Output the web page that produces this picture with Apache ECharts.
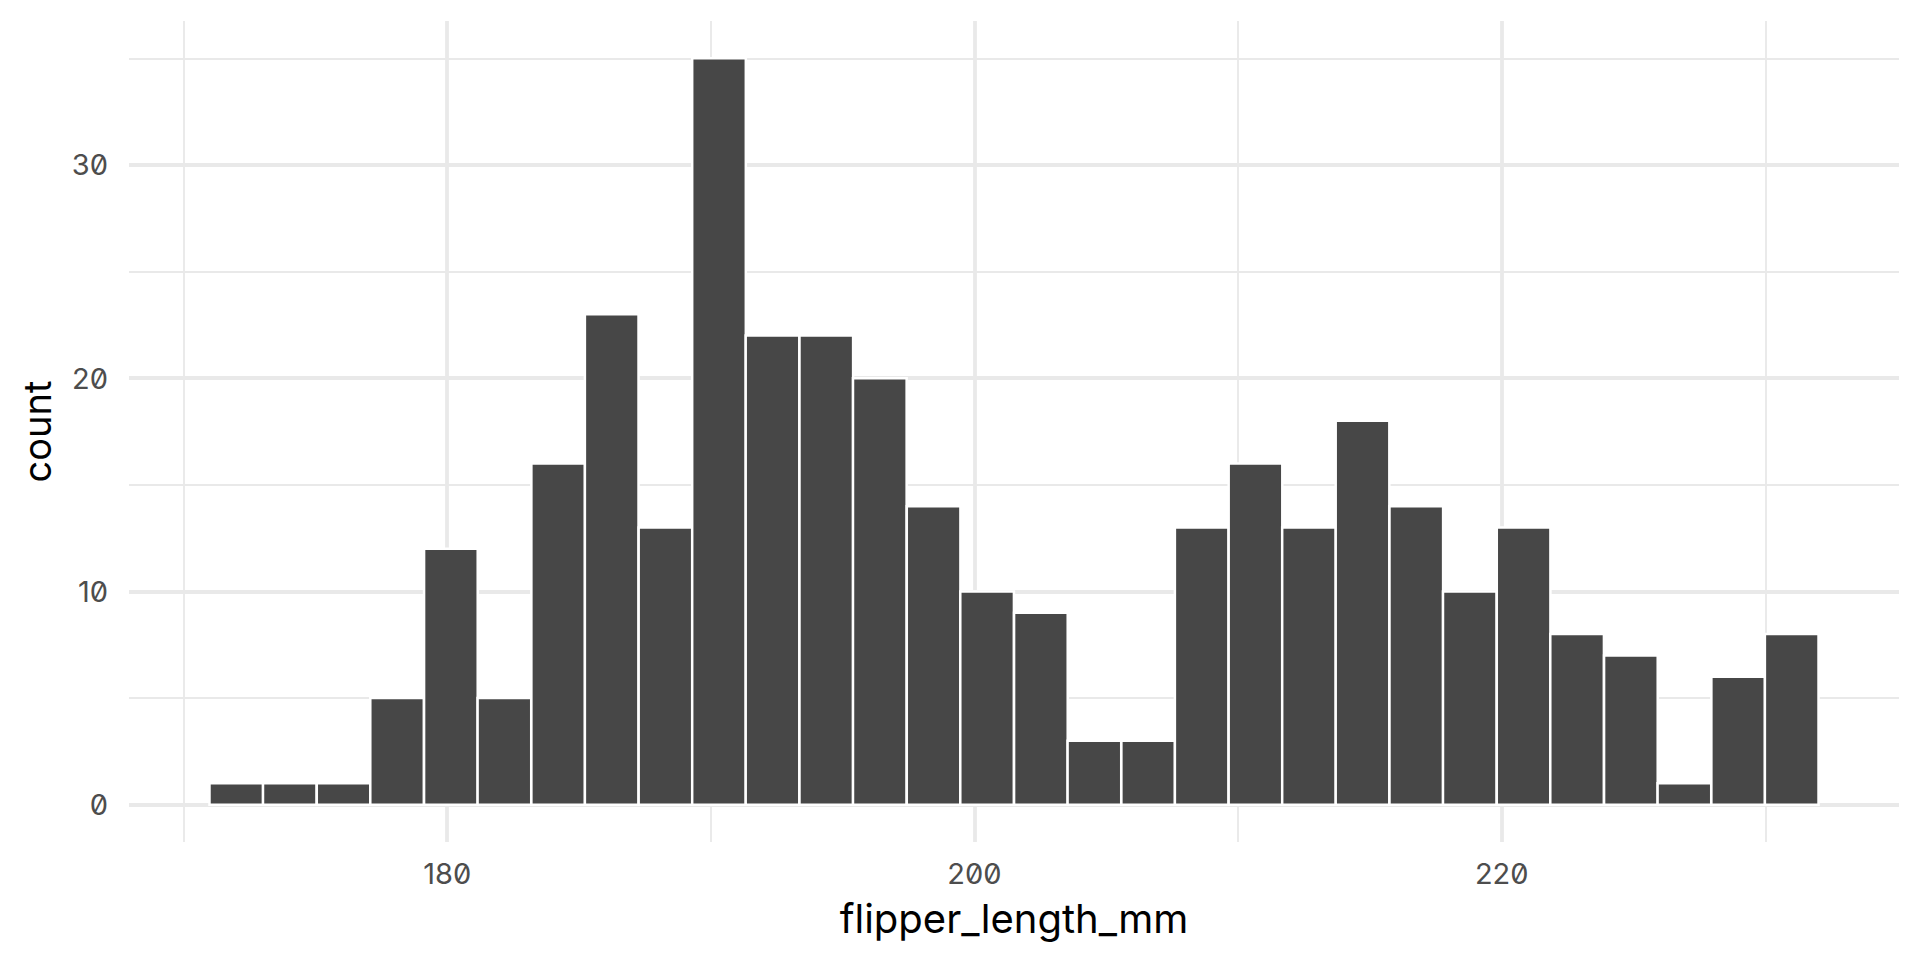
<!DOCTYPE html>
<html>
<head>
<meta charset="utf-8">
<script src="https://cdn.jsdelivr.net/npm/echarts@6.0.0/dist/echarts.min.js"></script>
<style>
html, body { margin: 0; padding: 0; background: #fff; }
#chart { width: 1920px; height: 960px; }
/* slashed zero like the reference tick labels */
#chart svg text { font-feature-settings: "zero" 1 !important; }
</style>
</head>
<body>
<div id="chart"></div>
<script>
// histogram of flipper_length_mm, 30 bins
var binCenters = [172.00, 174.03, 176.07, 178.10, 180.14, 182.17, 184.21, 186.24, 188.28, 190.31,
                  192.34, 194.38, 196.41, 198.45, 200.48, 202.52, 204.55, 206.59, 208.62, 210.66,
                  212.69, 214.72, 216.76, 218.79, 220.83, 222.86, 224.90, 226.93, 228.97, 231.00];
var binCounts = [1, 1, 1, 5, 12, 5, 16, 23, 13, 35,
                 22, 22, 20, 14, 10, 9, 3, 3, 13, 16,
                 13, 18, 14, 10, 13, 8, 7, 1, 6, 8];
var binWidth = 2.0345;
var xLimits = [167.93, 235.07];
var yLimits = [-1.75, 36.75];

var gridColor = '#E9E9E9';
var fontName = 'Inter';

var chart = echarts.init(document.getElementById('chart'), null, {renderer: 'svg'});

var data = [];
for (var i = 0; i < binCenters.length; i++) {
    data.push([binCenters[i], binCounts[i]]);
}

function renderBin(params, api) {
    var c = api.value(0);
    var n = api.value(1);
    var p0 = api.coord([c - binWidth / 2, n]);
    var p1 = api.coord([c + binWidth / 2, 0]);
    return {
        type: 'rect',
        shape: {x: p0[0], y: p0[1], width: p1[0] - p0[0], height: p1[1] - p0[1]},
        style: {fill: '#474747', stroke: '#ffffff', lineWidth: 2.5}
    };
}

var option = {
    animation: false,
    backgroundColor: '#ffffff',
    grid: {left: 129, right: 21, top: 21, bottom: 118},
    xAxis: {
        type: 'value',
        min: xLimits[0],
        max: xLimits[1],
        minInterval: 20,
        maxInterval: 20,
        name: 'flipper_length_mm',
        nameLocation: 'middle',
        nameGap: 56,
        nameTextStyle: {fontFamily: fontName, fontSize: 40, color: '#000000'},
        axisLine: {show: false},
        axisTick: {show: false},
        minorTick: {show: false, splitNumber: 2},
        axisLabel: {
            fontFamily: fontName, fontSize: 29, color: '#4D4D4D', margin: 17,
            showMinLabel: false, showMaxLabel: false
        },
        splitLine: {show: true, showMinLine: false, showMaxLine: false,
                    lineStyle: {color: gridColor, width: 3.8}},
        minorSplitLine: {show: true, lineStyle: {color: gridColor, width: 1.9}}
    },
    yAxis: {
        type: 'value',
        min: yLimits[0],
        max: yLimits[1],
        minInterval: 10,
        maxInterval: 10,
        name: 'count',
        nameLocation: 'middle',
        nameRotate: 90,
        nameGap: 73,
        nameTextStyle: {fontFamily: fontName, fontSize: 38, color: '#000000'},
        axisLine: {show: false},
        axisTick: {show: false},
        minorTick: {show: false, splitNumber: 2},
        axisLabel: {
            fontFamily: fontName, fontSize: 29, color: '#4D4D4D', margin: 21,
            showMinLabel: false, showMaxLabel: false
        },
        splitLine: {show: true, showMinLine: false, showMaxLine: false,
                    lineStyle: {color: gridColor, width: 3.8}},
        minorSplitLine: {show: true, lineStyle: {color: gridColor, width: 1.9}}
    },
    series: [{
        type: 'custom',
        renderItem: renderBin,
        encode: {x: 0, y: 1},
        data: data
    }]
};

chart.setOption(option);
</script>
</body>
</html>
